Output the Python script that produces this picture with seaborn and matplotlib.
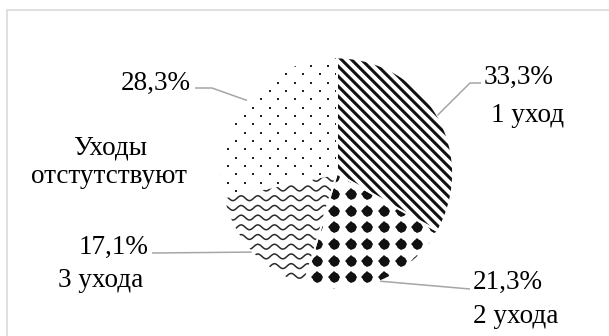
import numpy as np
import matplotlib
matplotlib.use("Agg")
import matplotlib.pyplot as plt
import matplotlib.patches as mpatches
from matplotlib.collections import LineCollection
import seaborn as sns

# ---- data ----
values = [33.3, 21.3, 17.1, 28.3]
categories = ["1 уход", "2 ухода", "3 ухода", "Уходы отстутствуют"]
pct_labels = [f"{v:.1f}".replace(".", ",") + "%" for v in values]

sns.set_theme(style="white")
plt.rcParams["font.family"] = ["Liberation Serif", "DejaVu Serif"]

W, H = 609, 336
fig = plt.figure(figsize=(W / 100, H / 100), dpi=100)
fig.patch.set_facecolor("white")

# pie geometry in pixels (from top-left)
CX, CY, R = 337, 173.5, 116
ax = fig.add_axes([(CX - R) / W, (H - CY - R) / H, 2 * R / W, 2 * R / H])

wedges, _ = ax.pie(values, startangle=90, counterclock=False, radius=1,
                   wedgeprops=dict(facecolor="white", edgecolor="none"))
ax.set_xlim(-1, 1)
ax.set_ylim(-1, 1)
ax.set_aspect("equal")
ax.axis("off")

P = 1.0 / R  # data units per pixel


def to_data(px, py):
    return ((px - CX) * P, (CY - py) * P)


# ---- patterns ----
# slice 1: diagonal stripes
segs = []
for c in np.arange(-2.6, 2.6, 10 * P):
    segs.append([(-1.3, 1.3 + c), (1.3, -1.3 + c)])
lc = LineCollection(segs, colors="#111111", linewidths=2.2, zorder=2)
ax.add_collection(lc)
lc.set_clip_path(wedges[0])

# slice 2: rounded-diamond grid
step = 100 / 6 * P
gx, gy = np.meshgrid(np.arange(-1.2, 1.2, step) + 3 * P, np.arange(-1.2, 1.2, step) + 2 * P)
d1, = ax.plot(gx.ravel(), gy.ravel(), ls="", marker="D", ms=6.4, color="#111111",
              mew=0, zorder=2)
d2, = ax.plot(gx.ravel(), gy.ravel(), ls="", marker="o", ms=7.2, color="#111111",
              mew=0, zorder=2)
d1.set_clip_path(wedges[1])
d2.set_clip_path(wedges[1])

# slice 3: wavy lines
xs = np.linspace(-1.3, 1.3, 1200)
wsegs = []
for y0 in np.arange(-1.3, 1.3, 9.7 * P):
    ys = y0 + 2.4 * P * np.sin(2 * np.pi * xs / (100 / 6 * P))
    wsegs.append(np.column_stack([xs, ys]))
wl = LineCollection(wsegs, colors="#2a2a2a", linewidths=1.1, zorder=2)
ax.add_collection(wl)
wl.set_clip_path(wedges[2])

# slice 4: staggered small dots
dx = 100 / 6 * P
dy = dx / 2
pts = []
for i, yv in enumerate(np.arange(-1.3, 1.3, dy)):
    off = (dx / 2) if i % 2 else 0.0
    for xv in np.arange(-1.3, 1.3, dx):
        pts.append((xv + off, yv))
pts = np.array(pts)
dd, = ax.plot(pts[:, 0], pts[:, 1], ls="", marker="s", ms=1.5, color="#222222",
              mew=0, zorder=2)
dd.set_clip_path(wedges[3])

# white separators
for w in wedges:
    ax.add_patch(mpatches.Wedge(w.center, w.r, w.theta1, w.theta2, facecolor="none",
                                edgecolor="white", linewidth=1.3, zorder=3))

# ---- leader lines & labels ----
LC = "#a6a6a6"
FS = 19.5


def rim(w):
    a = np.deg2rad((w.theta1 + w.theta2) / 2)
    return (w.r * np.cos(a), w.r * np.sin(a))


leaders = [
    [to_data(470, 83), to_data(481, 83)],
    [to_data(470, 289)],
    [to_data(152, 253)],
    [to_data(212, 88), to_data(195, 88)],
]
for w, pts_ in zip(wedges, leaders):
    path = [rim(w)] + pts_
    ax.plot([p[0] for p in path], [p[1] for p in path], color=LC, lw=1.1,
            clip_on=False, zorder=4, solid_capstyle="butt")

txt = dict(fontsize=FS, color="black", clip_on=False, va="baseline")
# slice 1
ax.text(*to_data(484, 84), pct_labels[0], ha="left", **txt)
ax.text(*to_data(491, 122), categories[0], ha="left", **txt)
# slice 2
ax.text(*to_data(473, 289), pct_labels[1], ha="left", **txt)
ax.text(*to_data(473, 323), categories[1], ha="left", **txt)
# slice 3
ax.text(*to_data(148, 254), pct_labels[2], ha="right", **txt)
ax.text(*to_data(58, 287), categories[2], ha="left", **txt)
# slice 4
ax.text(*to_data(191, 90), pct_labels[3], ha="right", **txt)
cat4 = categories[3].split(" ")
ax.text(*to_data(110, 155), cat4[0], ha="center", **txt)
ax.text(*to_data(109, 183), cat4[1], ha="center", **txt)

# outer frame (light gray)
fig.add_artist(mpatches.Rectangle((7 / W, -20 / H), 700 / W, (H - 10 + 20) / H,
                                  transform=fig.transFigure, facecolor="none",
                                  edgecolor="#d9d9d9", linewidth=1.2))

fig.savefig("out.png", dpi=100, facecolor="white")
